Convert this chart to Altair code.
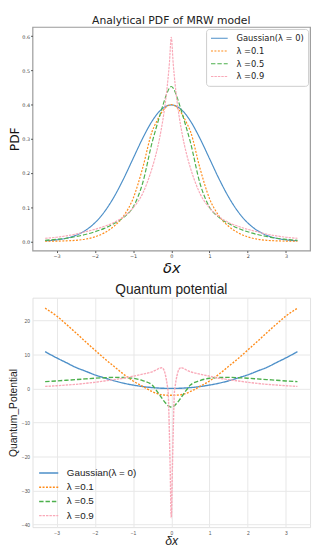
import altair as alt
import pandas as pd

SERIES = ["Gaussian(λ = 0)", "λ =0.1", "λ =0.5", "λ =0.9"]
COLORS = ["#4c8fc8", "#ff8c1a", "#4cb04c", "#f9a9b8"]
DASHES = [[1, 0], [2, 1.5], [4.5, 2], [2.5, 1]]
TOP_TITLE = "Analytical PDF of MRW model"
BOTTOM_TITLE = "Quantum potential"

# ---- top panel: analytical PDF ----
X_PDF = [-3.3, -3.0, -2.75, -2.5, -2.25, -2.0, -1.75, -1.5, -1.25, -1.0, -0.75, -0.5,
         -0.4, -0.3, -0.2, -0.15, -0.1, -0.05, 0.0, 0.05, 0.1, 0.15, 0.2, 0.3, 0.4,
         0.5, 0.75, 1.0, 1.25, 1.5, 1.75, 2.0, 2.25, 2.5, 2.75, 3.0, 3.3]
PDF_GAUSS = [0.0017, 0.0044, 0.0091, 0.0175, 0.0317, 0.054, 0.0863, 0.1295, 0.1826, 0.242,
             0.3011, 0.3521, 0.3683, 0.3814, 0.391, 0.3945, 0.397, 0.3984, 0.3989, 0.3984,
             0.397, 0.3945, 0.391, 0.3814, 0.3683, 0.3521, 0.3011, 0.242, 0.1826, 0.1295,
             0.0863, 0.054, 0.0317, 0.0175, 0.0091, 0.0044, 0.0017]
PDF_L01 = [0.0004, 0.0008, 0.0015, 0.003, 0.0065, 0.013, 0.025, 0.044, 0.074, 0.125,
           0.214, 0.322, 0.347, 0.368, 0.385, 0.391, 0.396, 0.399, 0.400, 0.399,
           0.396, 0.391, 0.385, 0.368, 0.347, 0.322, 0.214, 0.125, 0.074, 0.044,
           0.025, 0.013, 0.0065, 0.003, 0.0015, 0.0008, 0.0004]
PDF_L05 = [0.003, 0.006, 0.009, 0.014, 0.020, 0.028, 0.038, 0.052, 0.070, 0.100,
           0.170, 0.290, 0.330, 0.368, 0.405, 0.422, 0.437, 0.448, 0.453, 0.448,
           0.437, 0.422, 0.405, 0.368, 0.330, 0.290, 0.170, 0.100, 0.070, 0.052,
           0.038, 0.028, 0.020, 0.014, 0.009, 0.006, 0.003]
PDF_L09 = [0.009, 0.012, 0.016, 0.021, 0.028, 0.035, 0.044, 0.055, 0.072, 0.098,
           0.140, 0.215, 0.255, 0.305, 0.370, 0.410, 0.460, 0.520, 0.597, 0.520,
           0.460, 0.410, 0.370, 0.305, 0.255, 0.215, 0.140, 0.098, 0.072, 0.055,
           0.044, 0.035, 0.028, 0.021, 0.016, 0.012, 0.009]

# ---- bottom panel: quantum potential ----
X_QP = [-3.3, -3.0, -2.75, -2.5, -2.25, -2.0, -1.75, -1.5, -1.25, -1.0, -0.75, -0.5,
        -0.4, -0.3, -0.25, -0.2, -0.15, -0.1, -0.08, -0.05, -0.03, 0.0,
        0.03, 0.05, 0.08, 0.1, 0.15, 0.2, 0.25, 0.3, 0.4, 0.5, 0.75, 1.0,
        1.25, 1.5, 1.75, 2.0, 2.25, 2.5, 2.75, 3.0, 3.3]
QP_GAUSS = [10.8, 9.0, 7.6, 6.2, 5.1, 4.0, 3.1, 2.25, 1.55, 1.0, 0.56, 0.25,
            0.16, 0.09, 0.06, 0.04, 0.02, 0.01, 0.006, 0.003, 0.001, 0.0,
            0.001, 0.003, 0.006, 0.01, 0.02, 0.04, 0.06, 0.09, 0.16, 0.25, 0.56, 1.0,
            1.55, 2.25, 3.1, 4.0, 5.1, 6.2, 7.6, 9.0, 10.8]
QP_L01 = [23.6, 21.3, 18.9, 16.4, 13.8, 11.3, 8.8, 6.5, 4.2, 2.2, 0.6, -0.9,
          -1.4, -1.75, -1.85, -1.92, -1.97, -2.0, -2.0, -2.02, -2.02, -2.02,
          -2.02, -2.02, -2.0, -2.0, -1.97, -1.92, -1.85, -1.75, -1.4, -0.9, 0.6, 2.2,
          4.2, 6.5, 8.8, 11.3, 13.8, 16.4, 18.9, 21.3, 23.6]
QP_L05 = [2.0, 2.2, 2.4, 2.6, 2.8, 3.0, 3.15, 3.25, 3.2, 3.0, 2.3, 1.0,
          -0.4, -2.0, -2.8, -3.6, -4.3, -4.9, -5.1, -5.3, -5.4, -5.45,
          -5.4, -5.3, -5.1, -4.9, -4.3, -3.6, -2.8, -2.0, -0.4, 1.0, 2.3, 3.0,
          3.2, 3.25, 3.15, 3.0, 2.8, 2.6, 2.4, 2.2, 2.0]
QP_L09 = [0.6, 0.8, 1.0, 1.2, 1.5, 1.8, 2.2, 2.6, 3.0, 3.6, 4.2, 4.9,
          5.4, 6.0, 6.1, 5.6, 3.8, 0.5, -1.5, -13.0, -23.0, -38.0,
          -23.0, -13.0, -1.5, 0.5, 3.8, 5.6, 6.1, 6.0, 5.4, 4.9, 4.2, 3.6,
          3.0, 2.6, 2.2, 1.8, 1.5, 1.2, 1.0, 0.8, 0.6]

X_TICKS = [-3, -2, -1, 0, 1, 2, 3]
PDF_TICKS = [0.0, 0.1, 0.2, 0.3, 0.4, 0.5, 0.6]
QP_TICKS = [-40, -30, -20, -10, 0, 10, 20]


def long_table(xs, columns):
    rows = []
    for name, vals in zip(SERIES, columns):
        for x, v in zip(xs, vals):
            rows.append({"x": x, "y": v, "series": name})
    return pd.DataFrame(rows)


df_pdf = long_table(X_PDF, [PDF_GAUSS, PDF_L01, PDF_L05, PDF_L09])
df_qp = long_table(X_QP, [QP_GAUSS, QP_L01, QP_L05, QP_L09])

W = 283
H_TOP = 228
H_BOT = 234

top_legend = alt.Legend(
    title=None, orient="top-right", offset=2, padding=4, rowPadding=2,
    strokeColor="#cccccc", fillColor="white", cornerRadius=3,
    labelFont="DejaVu Sans", labelFontSize=8.5, labelColor="#222",
    symbolType="stroke", symbolSize=290, symbolStrokeWidth=1.2, labelOffset=8,
    clipHeight=11,
)
top_lines = alt.Chart(df_pdf).mark_line(strokeWidth=1.2, interpolate="monotone").encode(
    x=alt.X("x:Q", scale=alt.Scale(domain=[-3.63, 3.63], nice=False, zero=False),
            axis=alt.Axis(values=X_TICKS, title="δx", format="d", grid=False, domain=False,
                          tickSize=2, tickColor="#555", labelFontSize=5, labelColor="#444",
                          labelFont="DejaVu Sans", labelPadding=1,
                          titleFont="DejaVu Sans", titleFontSize=15, titleFontStyle="italic",
                          titleFontWeight="normal", titlePadding=2, titleColor="#111")),
    y=alt.Y("y:Q", scale=alt.Scale(domain=[-0.027, 0.627], nice=False, zero=False),
            axis=alt.Axis(values=PDF_TICKS, title="PDF", format=".1f", grid=False, domain=False,
                          tickSize=2, tickColor="#555", labelFontSize=5, labelColor="#444",
                          labelFont="DejaVu Sans", labelPadding=1,
                          titleFont="DejaVu Sans", titleFontSize=12.5, titleFontWeight="normal",
                          titlePadding=0, titleColor="#111")),
    color=alt.Color("series:N", scale=alt.Scale(domain=SERIES, range=COLORS), legend=top_legend),
    strokeDash=alt.StrokeDash("series:N", scale=alt.Scale(domain=SERIES, range=DASHES), legend=top_legend),
)
top_title = alt.Chart(pd.DataFrame({"label": [TOP_TITLE]})).mark_text(
    font="DejaVu Sans", fontSize=11, color="#222", baseline="middle", align="center"
).encode(text="label:N", x=alt.value(W / 2), y=alt.value(-6.5))
top = alt.layer(top_lines, top_title).properties(
    width=W, height=H_TOP,
    view=alt.ViewBackground(stroke="#9a9a9a", strokeWidth=1.2),
)

bottom_legend = alt.Legend(
    title=None, orient="bottom-left", offset=4, padding=2, rowPadding=2.5,
    labelFont="Liberation Sans", labelFontSize=10, labelColor="#222",
    symbolType="stroke", symbolSize=380, symbolStrokeWidth=1.5, labelOffset=8,
    clipHeight=11.5,
)
bottom_lines = alt.Chart(df_qp).mark_line(strokeWidth=1.4, interpolate="monotone").encode(
    x=alt.X("x:Q", scale=alt.Scale(domain=[-3.63, 3.63], nice=False, zero=False),
            axis=alt.Axis(values=X_TICKS, title="δx", format="d", grid=True, gridColor="#e8e8e8",
                          domain=False, ticks=False, labelFontSize=5, labelColor="#555",
                          labelFont="Liberation Sans", labelPadding=3,
                          titleFont="Liberation Sans", titleFontSize=12.5, titleFontStyle="italic",
                          titleFontWeight="normal", titlePadding=0, titleColor="#222")),
    y=alt.Y("y:Q", scale=alt.Scale(domain=[-40.8, 26.7], nice=False, zero=False),
            axis=alt.Axis(values=QP_TICKS, title="Quantum_Potential", format="d", grid=True,
                          gridColor="#e8e8e8", domain=False, ticks=False, labelFontSize=5,
                          labelColor="#555", labelFont="Liberation Sans", labelPadding=3,
                          titleFont="Liberation Sans", titleFontSize=10.5, titleFontWeight="normal",
                          titlePadding=3, titleColor="#222")),
    color=alt.Color("series:N", scale=alt.Scale(domain=SERIES, range=COLORS), legend=bottom_legend),
    strokeDash=alt.StrokeDash("series:N", scale=alt.Scale(domain=SERIES, range=DASHES), legend=bottom_legend),
)
bottom_title = alt.Chart(pd.DataFrame({"label": [BOTTOM_TITLE]})).mark_text(
    font="Liberation Sans", fontSize=14, color="#222", baseline="middle", align="center"
).encode(text="label:N", x=alt.value(W / 2), y=alt.value(-8))
bottom = alt.layer(bottom_lines, bottom_title).properties(
    width=W, height=H_BOT,
    view=alt.ViewBackground(stroke="#e0e0e0", strokeWidth=1),
)

chart = alt.vconcat(top, bottom, spacing=6).resolve_scale(
    color="independent", strokeDash="independent"
).resolve_legend(color="independent", strokeDash="independent").properties(
    padding={"left": 0, "top": 0, "right": 2, "bottom": 0}
)

chart.save("out.html", embed_options={"renderer": "svg", "actions": False})
